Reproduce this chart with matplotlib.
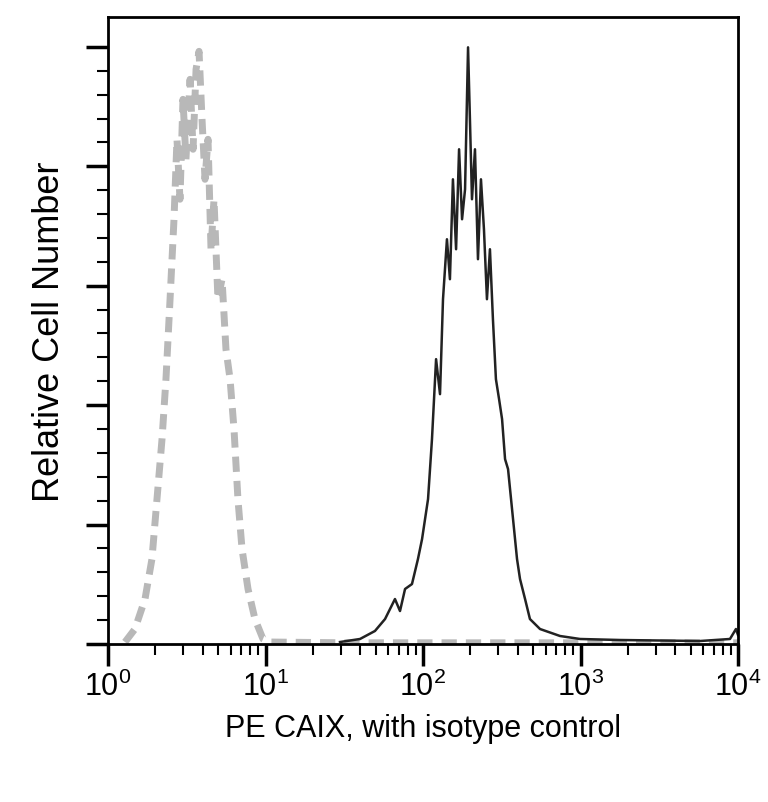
import numpy as np
import matplotlib
matplotlib.use("Agg")
import matplotlib.pyplot as plt
from matplotlib.ticker import LogLocator, FixedLocator, NullFormatter

plt.rcParams['font.family'] = ['Liberation Sans', 'DejaVu Sans']

# sample (CAIX) histogram: log10 intensity, relative count
caix_log = [1.473,1.600,1.695,1.759,1.822,1.854,1.886,1.930,1.968,1.994,2.032,2.057,2.083,2.108,2.127,2.152,2.171,2.190,2.210,2.229,2.248,2.267,2.286,2.298,2.311,2.330,2.349,2.368,2.387,2.406,2.425,2.444,2.463,2.483,2.502,2.521,2.540,2.559,2.578,2.597,2.616,2.648,2.679,2.743,2.870,2.997,3.251,3.759,3.949,3.987,4.0]
caix_y = [0.33,0.84,2.18,4.18,7.53,5.52,9.21,10.04,14.23,17.57,24.27,34.31,47.70,41.84,57.74,67.78,61.09,77.82,66.11,82.85,71.13,76.15,99.92,87.87,74.48,82.85,64.44,77.82,69.46,57.74,66.11,54.39,44.35,41.00,37.66,30.96,29.29,24.27,19.25,14.23,10.88,7.53,4.18,2.51,1.34,0.84,0.67,0.50,0.84,2.51,1.5]
# isotype control
iso_log = [0.108,0.171,0.235,0.279,0.311,0.343,0.368,0.394,0.419,0.438,0.457,0.476,0.495,0.521,0.540,0.559,0.578,0.597,0.616,0.635,0.654,0.673,0.698,0.724,0.749,0.775,0.800,0.825,0.851,0.889,0.933,0.984,1.029,1.5,2.5,3.5,4.0]
iso_y = [0.33,2.51,7.53,14.23,24.27,34.31,44.35,57.74,71.13,84.52,74.48,91.21,81.17,94.56,82.85,96.23,99.25,87.87,77.82,84.52,66.11,74.48,57.74,61.09,49.37,44.35,35.98,24.27,15.90,9.21,4.18,0.84,0.33,0.2,0.2,0.2,0.2]

fig = plt.figure(figsize=(7.68, 8.03), dpi=100)
ax = fig.add_axes([108/768, 1-645/803, 630/768, 627/803])
ax.plot(10**np.array(iso_log), iso_y, color='#b8b8b8', lw=5, ls=(0, (2.2, 1.3)))
ax.plot(10**np.array(caix_log), caix_y, color='#222222', lw=1.8)
ax.set_xscale('log')
ax.set_xlim(1, 1e4)
ax.set_ylim(0, 105)
ax.yaxis.set_major_locator(FixedLocator([0, 20, 40, 60, 80, 100]))
ax.yaxis.set_minor_locator(FixedLocator(np.arange(0, 101, 4)))
ax.yaxis.set_major_formatter(NullFormatter())
ax.xaxis.set_minor_locator(LogLocator(base=10, subs=np.arange(2, 10)))
ax.xaxis.set_minor_formatter(NullFormatter())
ax.tick_params(axis='both', which='major', length=16, width=2.5, labelsize=22, direction='out')
ax.tick_params(axis='both', which='minor', length=8, width=1.5)
for s in ax.spines.values():
    s.set_linewidth(2)
ax.set_xlabel('PE CAIX, with isotype control', fontsize=22, labelpad=8)
ax.set_ylabel('Relative Cell Number', fontsize=26, labelpad=10)
fig.savefig('out.png', dpi=100)
